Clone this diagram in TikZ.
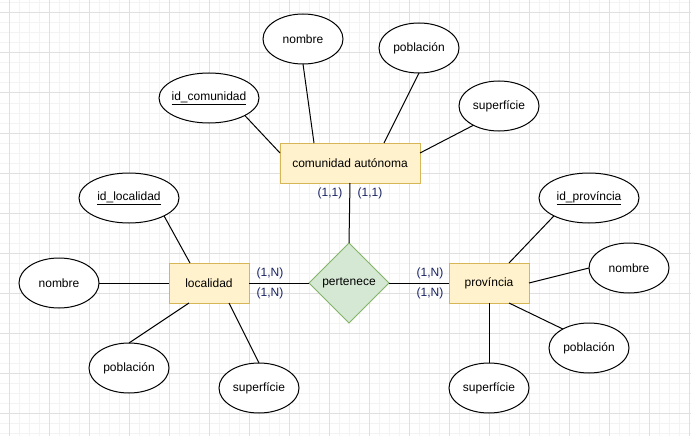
\documentclass[tikz,border=0pt]{standalone}
\usepackage{fontspec}
\setmainfont{Liberation Sans}
\usetikzlibrary{shapes.geometric}
\definecolor{entfill}{HTML}{FFF2CC}
\definecolor{entdraw}{HTML}{D6B656}
\definecolor{relfill}{HTML}{D5E8D4}
\definecolor{reldraw}{HTML}{82B366}
\definecolor{cardcol}{RGB}{25,35,100}
\definecolor{gridminor}{HTML}{F3F3F3}
\definecolor{gridmajor}{HTML}{E0E0E0}
\begin{document}
\begin{tikzpicture}[x=1pt,y=-1pt,
  font=\fontsize{12}{14}\selectfont,
  ent/.style={draw=entdraw, fill=entfill, minimum width=80pt, minimum height=40pt, inner sep=0pt, outer sep=0pt, line width=1pt},
  attr/.style={ellipse, draw=black, fill=white, minimum width=80pt, minimum height=50pt, inner sep=0pt, outer sep=0pt, line width=1pt},
  keyattr/.style={attr, minimum width=100pt},
  rel/.style={diamond, draw=reldraw, fill=relfill, minimum width=80pt, minimum height=80pt, inner sep=0pt, outer sep=0pt, line width=1pt},
  card/.style={text=cardcol, inner sep=0pt},
  link/.style={line width=1pt, draw=black}]
\useasboundingbox (0,0) rectangle (691,436);
\fill[white] (0,0) rectangle (691,436);
\foreach \x in {9,19,...,689} \draw[gridminor, line width=1pt] (\x,0) -- (\x,436);
\foreach \y in {3,13,...,433} \draw[gridminor, line width=1pt] (0,\y) -- (691,\y);
\foreach \x in {9,49,...,689} \draw[gridmajor, line width=1pt] (\x,0) -- (\x,436);
\foreach \y in {13,53,...,413} \draw[gridmajor, line width=1pt] (0,\y) -- (691,\y);

% entities and relationship
\node[ent, minimum width=140pt] (ca) at (350,163) {\makebox[0pt]{comunidad autónoma}};
\node[ent] (loc) at (209,283) {\makebox[0pt]{localidad}};
\node[ent] (prov) at (489,283) {\makebox[0pt]{província}};
\node[rel] (rel) at (349,283) {\makebox[0pt]{pertenece}};

% attributes of comunidad autonoma
\node[keyattr] (idc) at (209,98) {\makebox[0pt]{\underline{id\_comunidad}}};
\node[attr] (nomc) at (303,39) {\makebox[0pt]{nombre}};
\node[attr] (pobc) at (419,48) {\makebox[0pt]{población}};
\node[attr] (supc) at (499,106) {\makebox[0pt]{superfície}};

% attributes of localidad
\node[keyattr] (idl) at (129,198) {\makebox[0pt]{\underline{id\_localidad}}};
\node[attr] (noml) at (59,283) {\makebox[0pt]{nombre}};
\node[attr] (pobl) at (129,368) {\makebox[0pt]{población}};
\node[attr] (supl) at (259,388) {\makebox[0pt]{superfície}};

% attributes of provincia
\node[keyattr] (idp) at (589,198) {\makebox[0pt]{\underline{id\_província}}};
\node[attr] (nomp) at (629,268) {\makebox[0pt]{nombre}};
\node[attr] (pobp) at (589,348) {\makebox[0pt]{población}};
\node[attr] (supp) at (489,388) {\makebox[0pt]{superfície}};

% connectors
\draw[link] (idc.-26) -- ([yshift=10pt]ca.west);
\draw[link] (nomc.south) -- ([xshift=-36pt]ca.north);
\draw[link] (pobc.south) -- ([xshift=34pt]ca.north);
\draw[link] (supc.-143) -- ([yshift=10pt]ca.east);
\draw[link] (ca.south) -- (rel.north);
\draw[link] (loc.east) -- (rel.west);
\draw[link] (rel.east) -- (prov.west);

\draw[link] (idl.-27) -- ([xshift=-19pt]loc.north);
\draw[link] (noml.east) -- (loc.west);
\draw[link] (pobl.north) -- ([xshift=-20pt]loc.south);
\draw[link] (supl.north) -- ([xshift=20pt]loc.south);

\draw[link] (idp.-153) -- ([xshift=20pt]prov.north);
\draw[link] (nomp.west) -- (prov.east);
\draw[link] (pobp.144) -- ([xshift=20pt]prov.south);
\draw[link] (supp.north) -- (prov.south);

% cardinalities
\node[card] (c1) at (330,193) {(1,1)};
\node[card] (c2) at (370,193) {(1,1)};
\node[card] (c3) at (270,273) {(1,N)};
\node[card] (c4) at (270,293) {(1,N)};
\node[card] (c5) at (430,273) {(1,N)};
\node[card] (c6) at (430,293) {(1,N)};
\end{tikzpicture}
\end{document}
